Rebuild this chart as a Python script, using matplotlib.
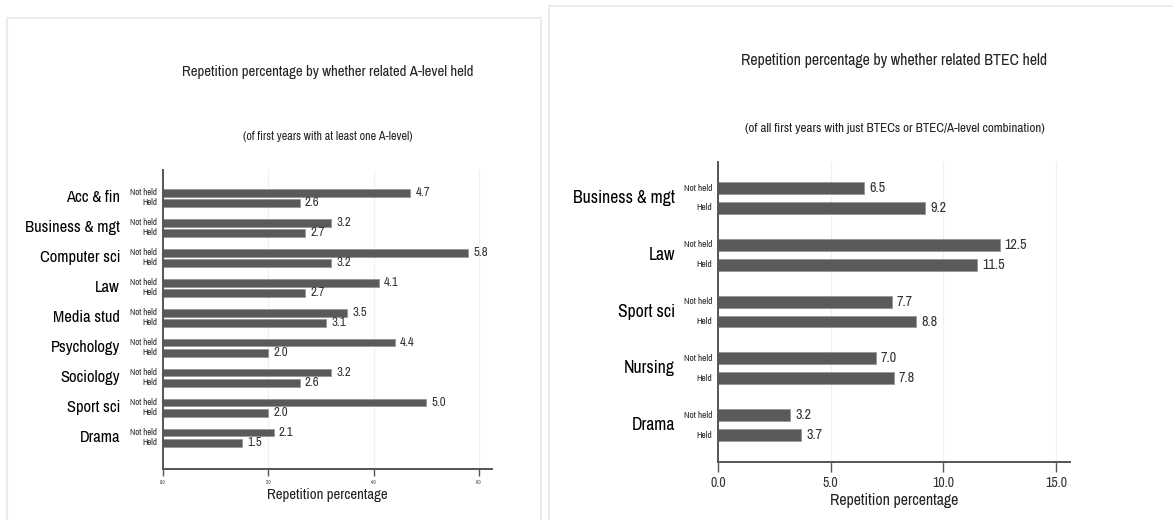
import matplotlib
matplotlib.use("Agg")
import matplotlib.pyplot as plt
from matplotlib.patches import Rectangle

plt.rcParams['font.family'] = ['Archivo Narrow', 'Liberation Sans', 'DejaVu Sans']

# data - A-level panel
alevel_subjects = ["Acc & fin", "Business & mgt", "Computer sci", "Law", "Media stud",
                   "Psychology", "Sociology", "Sport sci", "Drama"]
alevel_not_held = [4.7, 3.2, 5.8, 4.1, 3.5, 4.4, 3.2, 5.0, 2.1]
alevel_held = [2.6, 2.7, 3.2, 2.7, 3.1, 2.0, 2.6, 2.0, 1.5]
alevel_ticks = [0, 2, 4, 6]

# data - BTEC panel
btec_subjects = ["Business & mgt", "Law", "Sport sci", "Nursing", "Drama"]
btec_not_held = [6.5, 12.5, 7.7, 7.0, 3.2]
btec_held = [9.2, 11.5, 8.8, 7.8, 3.7]
btec_ticks = [0, 5, 10, 15]

W, H = 1173, 520
fig = plt.figure(figsize=(W / 100, H / 100), dpi=100)

# light panel frames
fig.patches.append(Rectangle((7 / W, -0.02), 534 / W, (H - 18) / H + 0.02, transform=fig.transFigure,
                             fill=False, edgecolor='#ececec', lw=1.5))
fig.patches.append(Rectangle((549 / W, -0.02), 630 / W, (H - 6) / H + 0.02, transform=fig.transFigure,
                             fill=False, edgecolor='#ececec', lw=1.5))

bar_col = '#5a5a5a'


def panel(box, subjects, not_held, held, ticks, xmax, ylim, off, bh,
          cat_fs, small_fs, val_fs, tick_fs, lab_fs, ticklen):
    x0, y0, x1, y1 = box
    ax = fig.add_axes([x0 / W, 1 - y1 / H, (x1 - x0) / W, (y1 - y0) / H])
    pos = list(range(len(subjects)))
    ax.barh([p - off for p in pos], not_held, height=bh, color=bar_col, edgecolor='#8a8a8a', lw=0.4)
    ax.barh([p + off for p in pos], held, height=bh, color=bar_col, edgecolor='#8a8a8a', lw=0.4)
    ax.set_xlim(0, xmax)
    ax.set_ylim(*ylim)
    for p, s, a, b in zip(pos, subjects, not_held, held):
        ax.annotate(s, xy=(0, p), xycoords=('axes fraction', 'data'), xytext=(-43, 0),
                    textcoords='offset pixels', ha='right', va='center', fontsize=cat_fs, color='black')
        ax.annotate("Not held", xy=(0, p - off), xycoords=('axes fraction', 'data'), xytext=(-6, 0),
                    textcoords='offset pixels', ha='right', va='center', fontsize=small_fs, color='#222222')
        ax.annotate("Held", xy=(0, p + off), xycoords=('axes fraction', 'data'), xytext=(-6, 0),
                    textcoords='offset pixels', ha='right', va='center', fontsize=small_fs, color='#222222')
        ax.annotate(f"{a:.1f}", xy=(a, p - off), xytext=(5, 0), textcoords='offset pixels',
                    ha='left', va='center', fontsize=val_fs, color='#333333')
        ax.annotate(f"{b:.1f}", xy=(b, p + off), xytext=(5, 0), textcoords='offset pixels',
                    ha='left', va='center', fontsize=val_fs, color='#333333')
    ax.set_yticks([])
    ax.set_xticks(ticks)
    ax.set_xticklabels([f"{t:.1f}" for t in ticks], fontsize=tick_fs, color='#333333')
    ax.tick_params(axis='x', length=ticklen, width=1, color='#555555', pad=3)
    for t in ticks:
        ax.axvline(t, color='#f0f0f0', lw=0.8, zorder=0)
    for s in ['top', 'right']:
        ax.spines[s].set_visible(False)
    ax.spines['left'].set_color('#555555')
    ax.spines['bottom'].set_color('#555555')
    ax.spines['left'].set_linewidth(1.4)
    ax.spines['bottom'].set_linewidth(1.4)
    ax.set_xlabel("Repetition percentage", fontsize=lab_fs, color='#222222', labelpad=2)
    return ax


panel((163, 170, 492, 469), alevel_subjects, alevel_not_held, alevel_held, alevel_ticks,
      6.25, (9.04, -0.93), 0.17, 0.25, 11.9, 6.3, 9.2, 3.5, 10.7, 5)
panel((718, 162, 1070, 462), btec_subjects, btec_not_held, btec_held, btec_ticks,
      15.62, (4.65, -0.634), 0.176, 0.21, 12.7, 6.7, 10.2, 10, 11.4, 7)

fig.text(328 / W, 1 - 72 / H, "Repetition percentage by whether related A-level held",
         ha='center', va='center', fontsize=10.7, color='#222222')
fig.text(328 / W, 1 - 137 / H, "(of first years with at least one A-level)",
         ha='center', va='center', fontsize=8.7, color='#222222')
fig.text(894 / W, 1 - 60 / H, "Repetition percentage by whether related BTEC held",
         ha='center', va='center', fontsize=11.45, color='#222222')
fig.text(895 / W, 1 - 128 / H, "(of all first years with just BTECs or BTEC/A-level combination)",
         ha='center', va='center', fontsize=9.4, color='#222222')

fig.savefig("out.png", dpi=100)
